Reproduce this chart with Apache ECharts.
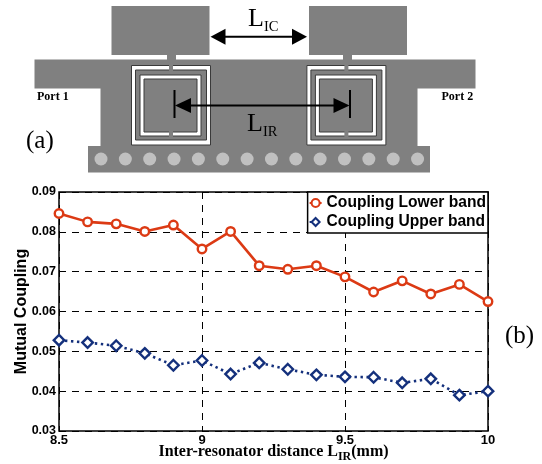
<!DOCTYPE html>
<html>
<head>
<meta charset="utf-8">
<title>Mutual coupling</title>
<script src="https://cdn.jsdelivr.net/npm/echarts@6/dist/echarts.min.js"></script>
<style>
html, body { margin: 0; padding: 0; background: #fff; }
#main { width: 542px; height: 464px; }
</style>
</head>
<body>
<div id="main"></div>
<script>
var distances = [8.5, 8.6, 8.7, 8.8, 8.9, 9, 9.1, 9.2, 9.3, 9.4, 9.5, 9.6, 9.7, 9.8, 9.9, 10];
var lowerBand = [0.0846, 0.0825, 0.0820, 0.0801, 0.0817, 0.0757, 0.0801, 0.0715, 0.0706, 0.0715, 0.0687, 0.0649, 0.0677, 0.0644, 0.0668, 0.0625];
var upperBand = [0.0528, 0.0522, 0.0514, 0.0495, 0.0465, 0.0477, 0.0443, 0.0471, 0.0455, 0.0441, 0.0436, 0.0435, 0.0421, 0.0431, 0.0390, 0.0400];

var GRAY = '#808080';
var RED = '#DC3A14';
var BLUE = '#14307C';
var SERIF = '"Liberation Serif", serif';
var SANS = '"Liberation Sans", sans-serif';

function zip(xs, ys) {
    return xs.map(function (x, i) { return [x, ys[i]]; });
}

// drawing (a) is not data, just plain shapes on top of the page
function box(x, y, w, h, fill, stroke) {
    return {
        type: 'rect',
        shape: { x: x, y: y, width: w, height: h },
        style: { fill: fill, stroke: stroke || null, lineWidth: stroke ? 1 : 0 }
    };
}
// y is the text baseline
function label(x, y, text, size, weight) {
    return {
        type: 'text',
        x: x,
        y: y - size * 0.85,
        style: {
            text: text,
            fontFamily: SERIF,
            fontSize: size,
            fontWeight: weight || 'normal',
            fill: '#000'
        }
    };
}
function arrowHead(tipX, y, dir, len, half) {
    return {
        type: 'polygon',
        shape: { points: [[tipX, y], [tipX + dir * len, y - half], [tipX + dir * len, y + half]] },
        style: { fill: '#000' }
    };
}
function line(x1, y1, x2, y2, width) {
    return {
        type: 'line',
        shape: { x1: x1, y1: y1, x2: x2, y2: y2 },
        style: { stroke: '#000', lineWidth: width }
    };
}
function resonator(dx) {
    var dark = '#3a3a3a';
    return [
        box(131.5 + dx, 65.5, 79, 79.5, '#fff', dark),
        box(135.5 + dx, 70, 71, 70, GRAY, dark),
        box(169 + dx, 64, 4, 7, GRAY),
        box(140 + dx, 75, 61, 61, '#fff', dark),
        box(144 + dx, 79, 53, 53, GRAY, dark),
        box(169 + dx, 131, 4, 6, GRAY)
    ];
}

var drawing = [
    box(111.5, 6, 98, 49, GRAY),
    box(309, 6, 98, 49, GRAY),
    box(34.5, 59.5, 441, 29, GRAY),
    box(100.5, 88, 317, 58.5, GRAY),
    box(88, 146, 342, 26.5, GRAY),
    box(167, 54, 9, 7, GRAY),
    box(343, 54, 9, 7, GRAY)
];
drawing = drawing.concat(resonator(0), resonator(175.4));
for (var i = 0; i < 14; i++) {
    drawing.push({
        type: 'circle',
        shape: { cx: 101 + i * 24.35, cy: 159, r: 6.5 },
        style: { fill: '#c0c0c0' }
    });
}
drawing.push(
    line(218, 36.7, 300, 36.7, 2),
    arrowHead(210.5, 36.7, 1, 15, 8),
    arrowHead(307, 36.7, -1, 15, 8),
    line(174.5, 90, 174.5, 118, 2),
    line(350, 90, 350, 118, 2),
    line(182, 105.5, 342, 105.5, 2),
    arrowHead(175, 105.5, 1, 16, 7.5),
    arrowHead(349.5, 105.5, -1, 16, 7.5),
    label(248, 28.5, 'L', 26),
    label(264, 32.5, 'IC', 14.5),
    label(247, 133.5, 'L', 26),
    label(263, 137, 'IR', 14.5),
    label(37, 101.5, 'Port 1', 12, 'bold'),
    label(441.5, 101.5, 'Port 2', 12, 'bold'),
    label(26, 150, '(a)', 25),
    label(505, 345, '(b)', 25)
);

var chart = echarts.init(document.getElementById('main'));
var options = {
    animation: false,
    backgroundColor: '#fff',
    color: [RED, BLUE],
    grid: {
        left: 59,
        right: 54,
        top: 192,
        bottom: 33,
        show: true,
        borderColor: '#000',
        borderWidth: 1.5,
        outerBoundsMode: 'none'
    },
    legend: {
        orient: 'vertical',
        right: 54,
        top: 192,
        padding: [3, 2, 3, 1],
        itemGap: 3,
        itemWidth: 12,
        itemHeight: 10,
        backgroundColor: '#fff',
        borderColor: '#000',
        borderWidth: 1.5,
        textStyle: {
            fontFamily: SANS,
            fontWeight: 'bold',
            fontSize: 15.6,
            color: '#000'
        },
        data: ['Coupling Lower band', 'Coupling Upper band']
    },
    xAxis: {
        type: 'value',
        min: 8.5,
        max: 10,
        interval: 0.5,
        name: '{a|Inter-resonator distance L}{s|IR}{a|(mm)}',
        nameLocation: 'middle',
        nameGap: 10,
        nameMoveOverlap: false,
        nameTextStyle: {
            rich: {
                a: { fontFamily: SERIF, fontWeight: 'bold', fontSize: 16, color: '#000' },
                s: { fontFamily: SERIF, fontWeight: 'bold', fontSize: 12, color: '#000', padding: [10, 0, 0, 0] }
            }
        },
        axisLine: { show: false },
        axisTick: { show: false },
        axisLabel: {
            margin: 3,
            fontFamily: SANS,
            fontWeight: 'bold',
            fontSize: 13,
            color: '#000',
            showMinLabel: true,
            showMaxLabel: true
        },
        splitLine: { show: true, lineStyle: { color: '#000', type: [7, 6], width: 1 } }
    },
    yAxis: {
        type: 'value',
        min: 0.03,
        max: 0.09,
        interval: 0.01,
        name: 'Mutual Coupling',
        nameLocation: 'middle',
        nameGap: 29,
        nameMoveOverlap: false,
        nameTextStyle: { fontFamily: SANS, fontWeight: 'bold', fontSize: 16, color: '#000' },
        axisLine: { show: false },
        axisTick: { show: false },
        axisLabel: {
            margin: 3,
            fontFamily: SANS,
            fontWeight: 'bold',
            fontSize: 12.5,
            color: '#000',
            formatter: function (v) { return v.toFixed(2); }
        },
        splitLine: { show: true, lineStyle: { color: '#000', type: [7, 6], width: 1 } }
    },
    series: [
        {
            name: 'Coupling Lower band',
            type: 'line',
            clip: false,
            data: zip(distances, lowerBand),
            symbol: 'circle',
            symbolSize: 8.5,
            lineStyle: { color: RED, width: 2.6 },
            itemStyle: { color: '#fff', borderColor: RED, borderWidth: 2.4 },
            z: 3
        },
        {
            name: 'Coupling Upper band',
            type: 'line',
            clip: false,
            data: zip(distances, upperBand),
            symbol: 'diamond',
            symbolSize: 10.5,
            lineStyle: { color: BLUE, width: 2.6, type: [2.4, 3.6] },
            itemStyle: { color: '#fff', borderColor: BLUE, borderWidth: 2.4 },
            z: 3
        }
    ],
    graphic: { elements: drawing }
};
chart.setOption(options);
window.addEventListener('resize', function () {
    chart.resize();
});
</script>
</body>
</html>
